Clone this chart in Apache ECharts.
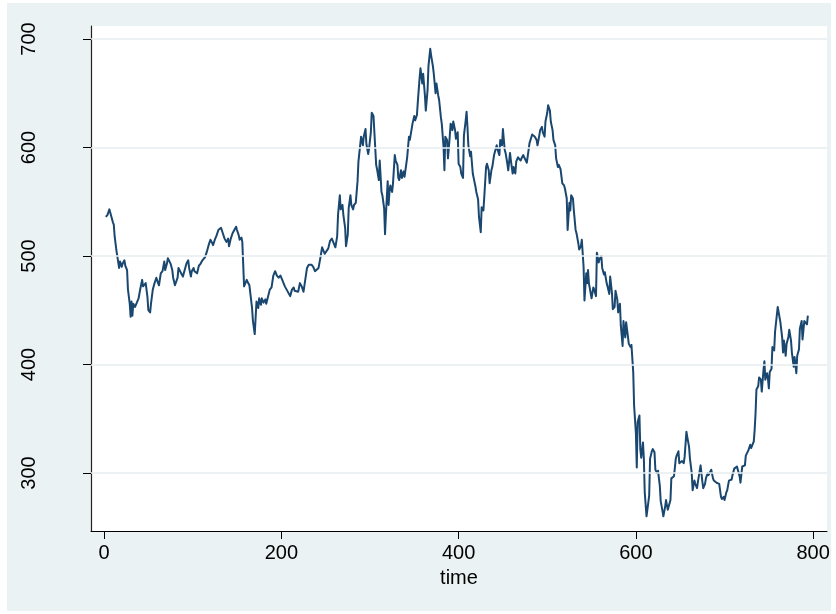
<!DOCTYPE html>
<html>
<head>
<meta charset="utf-8">
<script src="https://cdn.jsdelivr.net/npm/echarts@6/dist/echarts.min.js"></script>
<style>
  html, body { margin: 0; padding: 0; background: #ffffff; }
  #chart { width: 836px; height: 614px; }
</style>
</head>
<body>
<div id="chart"></div>
<script>
// Observation index of each sampled point
const timeIdx = [
  2,4,6,8,10,11,12,14,15,17,
  18,20,21,23,24,26,27,29,30,31,
  32,33,35,37,39,41,43,44,46,47,
  49,50,52,53,55,57,59,61,62,64,
  66,68,69,71,72,75,77,78,80,81,
  83,84,86,87,89,90,92,93,95,96,
  98,99,101,102,104,105,107,109,111,114,
  116,118,120,122,123,125,127,129,132,134,
  136,138,140,141,143,145,147,149,150,152,
  153,155,156,158,159,161,162,164,167,168,
  170,171,172,174,175,177,178,180,182,183,
  185,187,189,191,193,195,197,199,200,202,
  204,206,208,210,212,214,215,217,219,221,
  223,225,227,229,231,232,234,236,238,240,
  242,244,246,248,249,251,253,255,257,259,
  261,263,264,266,267,269,270,272,273,275,
  276,278,279,281,282,284,286,287,289,290,
  292,293,295,296,298,299,301,302,304,305,
  307,308,310,311,313,314,316,317,318,320,
  321,322,323,325,326,328,329,331,332,333,
  335,336,338,339,341,342,344,345,347,348,
  350,351,353,354,356,357,359,360,362,363,
  365,366,368,369,371,372,374,375,377,378,
  380,381,383,384,385,387,388,390,391,393,
  394,396,397,399,400,402,403,405,406,408,
  409,410,411,413,414,416,417,419,420,422,
  423,425,426,428,429,431,432,434,435,437,
  438,440,441,443,444,446,447,449,450,452,
  453,455,456,458,459,461,462,464,465,467,
  468,470,471,473,474,476,477,479,480,482,
  483,485,486,488,489,491,492,494,495,497,
  498,500,501,503,504,506,507,509,510,512,
  513,515,517,519,520,522,523,525,526,527,
  529,530,532,533,535,536,538,539,541,542,
  544,545,546,547,549,550,552,553,555,556,
  558,559,561,562,564,565,567,568,570,571,
  573,574,576,577,579,580,582,583,585,586,
  588,589,591,592,594,595,597,598,600,601,
  602,604,605,606,608,609,610,612,613,615,
  616,618,619,621,622,624,625,627,628,630,
  631,633,634,636,637,639,640,642,643,645,
  646,648,649,651,652,654,655,657,658,660,
  661,663,664,666,667,669,670,672,673,675,
  676,678,679,681,682,684,685,687,688,690,
  691,693,694,696,697,699,700,702,703,705,
  706,708,709,711,712,714,715,717,718,720,
  721,723,724,726,727,729,730,732,733,734,
  735,736,737,738,739,741,742,744,745,746,
  748,749,750,751,753,754,756,757,759,760,
  762,763,765,766,767,769,770,772,773,775,
  776,778,779,781,782,784,785,787,788,790,
  791,793,794
];

// Series value at each index
const price = [
  536,538,543,543,531,529,518,505,504,489,
  495,490,493,496,491,487,469,456,444,458,
  445,456,453,454,461,470,478,472,473,475,
  462,450,448,456,469,475,480,475,473,484,
  486,495,487,493,498,493,487,480,473,472,
  480,489,490,484,481,484,490,493,496,489,
  481,486,489,486,487,484,491,493,496,499,
  504,510,515,512,510,515,519,524,526,521,
  516,513,516,509,516,521,524,527,524,519,
  515,517,513,472,473,478,476,473,452,440,
  428,443,458,452,461,455,461,457,460,456,
  455,469,471,482,486,482,480,482,480,480,
  472,469,466,463,469,471,468,468,467,475,
  472,467,467,489,492,491,492,490,486,487,
  489,498,508,509,502,501,507,514,516,517,
  508,518,538,556,543,547,538,526,509,520,
  544,556,547,543,547,549,569,587,588,610,
  602,610,617,603,594,599,614,632,629,614,
  584,580,570,588,559,556,544,520,538,569,
  547,559,565,559,567,593,588,584,572,570,
  579,572,578,573,585,591,610,607,617,622,
  629,625,630,642,664,673,659,668,648,634,
  653,675,691,685,675,668,650,659,648,644,
  628,622,601,579,610,607,590,610,622,616,
  624,616,608,614,585,582,576,572,611,625,
  633,619,602,592,596,576,572,564,559,552,
  536,522,545,542,555,582,585,579,567,579,
  582,593,596,602,598,593,607,602,617,598,
  595,585,579,595,588,576,582,576,587,591,
  592,588,590,593,591,590,586,587,604,605,
  612,613,610,607,602,611,616,619,614,610,
  624,632,639,634,624,616,607,602,590,582,
  584,580,567,565,562,553,524,549,542,556,
  553,542,524,521,512,506,509,515,490,459,
  484,475,487,475,474,461,471,469,463,503,
  494,497,500,489,483,485,475,472,465,481,
  466,451,453,468,460,448,456,436,417,440,
  425,439,426,419,416,418,393,362,337,305,
  347,353,322,314,328,313,282,260,259,279,
  313,320,322,319,303,300,302,288,274,265,
  260,269,275,266,269,275,295,295,297,313,
  316,320,309,310,311,309,315,338,333,324,
  313,300,284,293,290,286,292,293,307,292,
  286,290,295,300,298,297,303,295,293,292,
  291,290,290,278,276,278,275,282,284,293,
  292,294,298,304,304,306,306,297,291,306,
  305,307,316,317,321,326,323,327,329,340,
  355,377,378,380,388,386,375,395,403,386,
  392,387,378,393,396,416,413,430,429,453,
  453,439,425,411,422,408,419,425,432,422,
  411,398,407,392,408,414,433,440,423,440,
  439,437,445
];

const xTicks = [0, 200, 400, 600, 800];
const yTicks = [300, 400, 500, 600, 700];
const xTitle = 'time';

const seriesData = timeIdx.map((t, i) => [t, price[i]]);

const font = '"Liberation Sans", Arial, Helvetica, sans-serif';
const chart = echarts.init(document.getElementById('chart'), null, { renderer: 'canvas' });

chart.setOption({
  animation: false,
  backgroundColor: '#ffffff',
  graphic: [{
    type: 'rect',
    z: -10,
    silent: true,
    shape: { x: 7, y: 3, width: 824, height: 608 },
    style: { fill: '#EAF2F3' }
  }],
  grid: {
    left: 91, right: 9, top: 26, bottom: 83,
    show: true, backgroundColor: '#ffffff', borderWidth: 0
  },
  xAxis: {
    type: 'value',
    min: -14.7, max: 815.6,
    name: xTitle,
    nameLocation: 'middle',
    nameGap: 37,
    nameTextStyle: { fontFamily: font, fontSize: 20, color: '#000' },
    axisLine: { show: true, onZero: false, lineStyle: { color: '#000', width: 1 } },
    axisTick: { show: true, customValues: xTicks, length: 8, lineStyle: { color: '#000', width: 1 } },
    axisLabel: { customValues: xTicks, fontFamily: font, fontSize: 20, color: '#000', margin: 12 },
    splitLine: { show: false }
  },
  yAxis: {
    type: 'value',
    min: 246.5, max: 712,
    axisLine: { show: true, onZero: false, lineStyle: { color: '#222', width: 1.2 } },
    axisTick: { show: true, customValues: yTicks, length: 8, lineStyle: { color: '#000', width: 1 } },
    axisLabel: { customValues: yTicks, rotate: 90, fontFamily: font, fontSize: 20, color: '#000', margin: 52 },
    splitLine: { show: false }
  },
  series: [
    {
      // horizontal reference lines at the labelled y values
      type: 'line',
      data: [],
      z: 1,
      silent: true,
      markLine: {
        silent: true,
        symbol: ['none', 'none'],
        label: { show: false },
        lineStyle: { type: 'solid', color: '#E6EEF0', width: 1.5 },
        data: yTicks.map(v => ({ yAxis: v }))
      }
    },
    {
      type: 'line',
      data: seriesData,
      z: 3,
      showSymbol: false,
      symbol: 'none',
      lineStyle: { color: '#1A476F', width: 2, join: 'round' }
    }
  ]
});
</script>
</body>
</html>
